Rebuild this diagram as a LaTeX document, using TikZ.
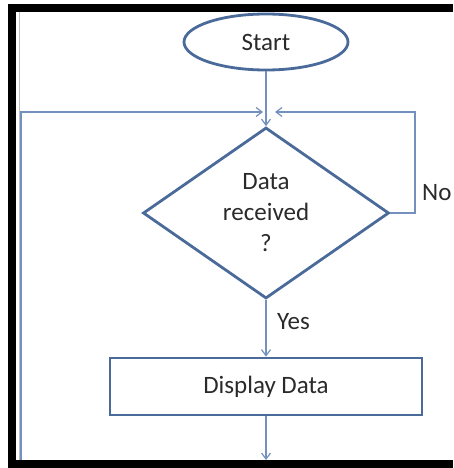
\documentclass[tikz,border=0pt]{standalone}
\usepackage{fontspec}
\setmainfont{Carlito}
\usetikzlibrary{shapes.geometric,arrows.meta}
\definecolor{shapeblue}{HTML}{4A6A9A}
\definecolor{linkblue}{HTML}{7390BE}
\definecolor{txt}{HTML}{2A2A2A}
\tikzset{
  shapeline/.style={draw=shapeblue, line width=2.8pt},
  link/.style={draw=linkblue, line width=1.2pt},
  arr/.style={link, -{Straight Barb[length=6pt,width=9pt]}},
  lbl/.style={text=txt, font=\fontsize{25}{31}\selectfont},
}
\begin{document}
\begin{tikzpicture}[x=1pt,y=-1pt]
\useasboundingbox (0,0) rectangle (453,468);
% frame
\fill[black] (8,4) rectangle (453,12);
\fill[black] (8,4) rectangle (16,468);
\fill[black] (8,460) rectangle (453,468);
\draw[gray!50, line width=0.8pt] (19,12) -- (19,460);
% nodes
\node[shapeline, ellipse, minimum width=164pt, minimum height=56pt, inner sep=0pt, lbl] (start) at (266,42) {Start};
\node[shapeline, diamond, minimum width=246pt, minimum height=171pt, inner sep=0pt, align=center, lbl] (dec) at (266,213) {Data\\received\\?};
\node[shapeline, rectangle, minimum width=312pt, minimum height=57pt, inner sep=0pt, lbl] (disp) at (266,386.5) {Display Data};
\coordinate (lm) at (263,112);
\coordinate (rm) at (275,112);
\coordinate (tl) at (21,112);
\coordinate (bl) at (21,460);
\coordinate (tr) at (415,112);
\coordinate (br) at (415,213);
\coordinate (bend) at (266,460);
% connectors
\draw[arr] (start.south) -- (dec.north);
\draw[arr] (bl) -- (tl) -- (lm);
\draw[arr] (dec.east) -- (br) -- (tr) -- (rm);
\draw[arr] (dec.south) -- (disp.north);
\draw[arr] (disp.south) -- (bend);
% labels
\node[lbl, anchor=west, inner sep=0pt] (no) at (422,193) {No};
\node[lbl, anchor=west, inner sep=0pt] (yes) at (277,322) {Yes};
\end{tikzpicture}
\end{document}
